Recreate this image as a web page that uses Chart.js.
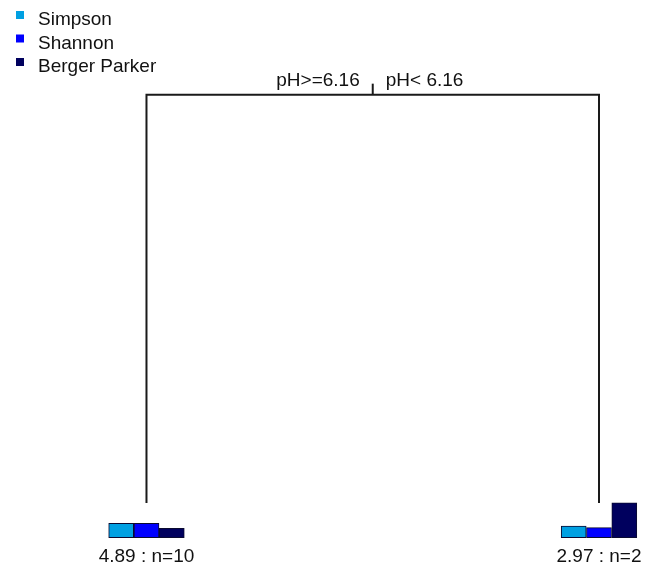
<!DOCTYPE html>
<html>
<head>
<meta charset="utf-8">
<script src="https://cdn.jsdelivr.net/npm/chart.js@4"></script>
<style>
  body { margin: 0; background: #fff; }
  #treeChart { display: block; }
</style>
</head>
<body>
<canvas id="treeChart" width="650" height="567"></canvas>
<script>
// data
const indexNames = ["Simpson", "Shannon", "Berger Parker"];
const splitLabels = ["pH>=6.16", "pH< 6.16"];
const leafMeans = [4.89, 2.97];
const leafN = [10, 2];
// relative bar heights at each leaf (left, right)
const simpson = [0.41, 0.33];
const shannon = [0.41, 0.29];
const bergerParker = [0.27, 1.0];

const colors = ["#00A0E2", "#0000FF", "#00005E"];
const leafX = [1, 2];
const rootX = 1.5;
const rootY = 1;
const barBase = -0.085;
const barScale = 0.0857;
const barStep = 0.0559;

let seriesValues = [simpson, shannon, bergerParker];

let barDatasets = indexNames.map((name, i) => {
    return {
        type: "bar",
        label: name,
        data: leafX.map((lx, j) => ({
            x: lx + (i - 1) * barStep,
            y: [barBase, barBase + seriesValues[i][j] * barScale],
        })),
        backgroundColor: colors[i],
        borderColor: "#0a0a30",
        borderWidth: 1,
        borderSkipped: false,
        barThickness: 25,
        grouped: false,
        order: 2,
    };
});

let treeDatasets = [
    {
        type: "line",
        label: "tree",
        data: [
            { x: leafX[0], y: 0 },
            { x: leafX[0], y: rootY },
            { x: leafX[1], y: rootY },
            { x: leafX[1], y: 0 },
        ],
        borderColor: "#1a1a1a",
        borderWidth: 2,
        pointRadius: 0,
        fill: false,
        order: 1,
    },
    {
        type: "line",
        label: "tick",
        data: [
            { x: rootX, y: rootY },
            { x: rootX, y: rootY + 0.027 },
        ],
        borderColor: "#1a1a1a",
        borderWidth: 2,
        pointRadius: 0,
        fill: false,
        order: 1,
    },
];

let labelPlugin = {
    id: "treeLabels",
    afterDatasetsDraw(chart) {
        let ctx = chart.ctx;
        let xs = chart.scales.x;
        let ys = chart.scales.y;
        ctx.save();
        ctx.fillStyle = "#111";
        ctx.font = "19px 'Liberation Sans', Arial, sans-serif";
        ctx.textBaseline = "alphabetic";

        // split labels
        let rx = xs.getPixelForValue(rootX);
        let ry = ys.getPixelForValue(rootY);
        ctx.textAlign = "right";
        ctx.fillText(splitLabels[0], rx - 13, ry - 8.5);
        ctx.textAlign = "left";
        ctx.fillText(splitLabels[1], rx + 13, ry - 8.5);

        // leaf labels
        ctx.textAlign = "center";
        let by = ys.getPixelForValue(barBase);
        leafX.forEach((lx, j) => {
            ctx.fillText(leafMeans[j].toFixed(2) + " : n=" + leafN[j], xs.getPixelForValue(lx), by + 24);
        });

        // legend
        ctx.textAlign = "left";
        indexNames.forEach((name, i) => {
            let cy = 15 + i * 23.5;
            ctx.fillStyle = colors[i];
            ctx.fillRect(16, cy - 4, 8, 8);
            ctx.fillStyle = "#111";
            ctx.fillText(name, 38, cy + 10);
        });
        ctx.restore();
    },
};

let ctx = document.getElementById("treeChart").getContext("2d");
let myChart = new Chart(ctx, {
    type: "bar",
    data: {
        datasets: treeDatasets.concat(barDatasets),
    },
    options: {
        responsive: false,
        animation: false,
        devicePixelRatio: 1,
        layout: { padding: 0 },
        plugins: {
            legend: { display: false },
            tooltip: { enabled: false },
        },
        scales: {
            x: { type: "linear", min: 0.6763, max: 2.1127, offset: false, display: false },
            y: { type: "linear", min: -0.1567, max: 1.2319, display: false },
        },
    },
    plugins: [labelPlugin],
});
</script>
</body>
</html>
